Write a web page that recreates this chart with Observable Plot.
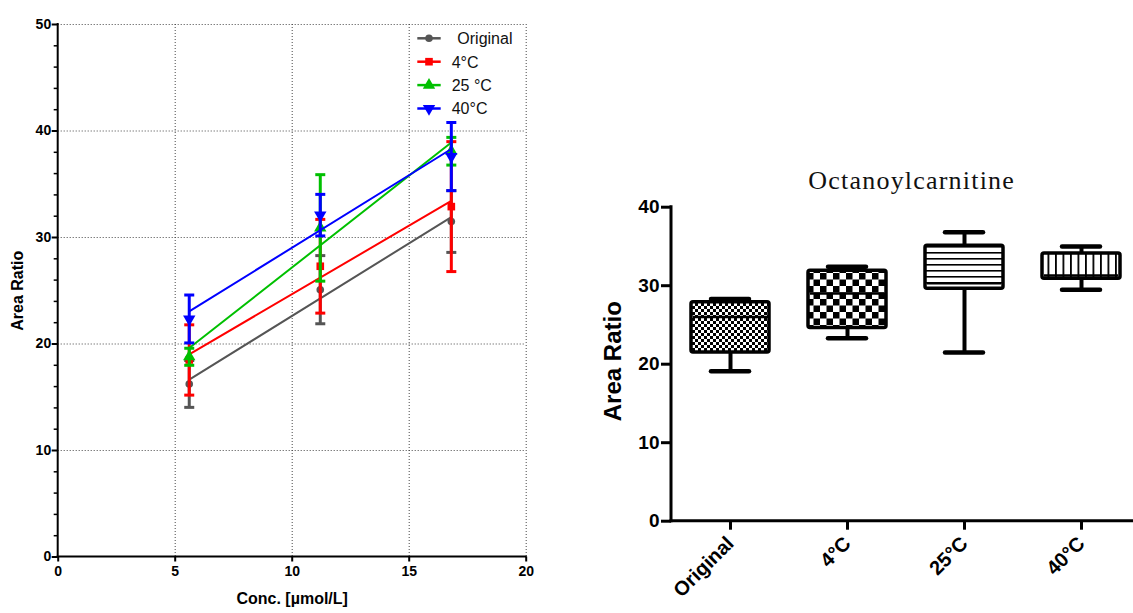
<!DOCTYPE html>
<html><head><meta charset="utf-8">
<script src="https://cdn.jsdelivr.net/npm/d3@7"></script>
<script src="https://cdn.jsdelivr.net/npm/@observablehq/plot@0.6"></script>
<style>
html,body{margin:0;padding:0;background:#fff;overflow:hidden;width:1133px;height:613px;}
#left{position:absolute;left:0;top:0;width:560px;}
#right{position:absolute;left:560px;top:0;width:581px;}
#left svg,#right svg{max-width:none;}
#legend{position:absolute;left:400px;top:20px;}
#title{position:absolute;left:711.7px;top:168px;width:400px;text-align:center;font-family:"Liberation Serif","Times New Roman",serif;font-size:26px;line-height:26px;letter-spacing:1.2px;color:#111;}
</style></head><body>
<div id="left"></div><div id="right"></div><div id="legend"></div>
<div id="title">Octanoylcarnitine</div>
<script>
// ---------- Left panel data ----------
const series = ["Original", "4°C", "25 °C", "40°C"];
const seriesColors = ["#555555", "#ff0000", "#00c000", "#0000ff"];
const conc = [5.6, 11.2, 16.8];
const meanOriginal = [16.25, 25.1, 31.5];
const sdOriginal = [2.2, 3.2, 2.9];
const mean4C = [18.5, 27.3, 32.9];
const sd4C = [3.3, 4.4, 6.1];
const mean25C = [18.8, 30.9, 38.1];
const sd25C = [0.8, 5.0, 1.3];
const mean40C = [22.35, 32.1, 37.6];
const sd40C = [2.25, 1.95, 3.2];
const xTicks = [0, 5, 10, 15, 20];
const yTicks = [0, 10, 20, 30, 40, 50];
const yMinorTicks = [2, 4, 6, 8, 12, 14, 16, 18, 22, 24, 26, 28, 32, 34, 36, 38, 42, 44, 46, 48];

// ---------- Right panel data ----------
const boxCats = ["Original", "4°C", "25°C", "40°C"];
const whiskerLow = [19.1, 23.3, 21.5, 29.5];
const q1 = [21.5, 24.6, 29.6, 30.9];
const median = [26.0, 29.0, 30.3, 31.3];
const q3 = [27.9, 31.9, 35.1, 34.1];
const whiskerHigh = [28.3, 32.4, 36.8, 35.0];
const boxTicks = [0, 10, 20, 30, 40];

const means = [meanOriginal, mean4C, mean25C, mean40C];
const sds = [sdOriginal, sd4C, sd25C, sd40C];
const rows = [];
series.forEach((s, i) => conc.forEach((c, j) => rows.push({series: s, conc: c, mean: means[i][j], sd: sds[i][j]})));

const sqrt3 = Math.sqrt(3);
const triangleDown = {draw(ctx, size) {
  const y = -Math.sqrt(size / (sqrt3 * 3));
  ctx.moveTo(0, -y * 2); ctx.lineTo(-sqrt3 * y, y); ctx.lineTo(sqrt3 * y, y); ctx.closePath();
}};
const capSym = {draw(ctx) { ctx.moveTo(-5, 0); ctx.lineTo(5, 0); }};
const symbols = ["circle", "square", "triangle", triangleDown];
const symbolR = [3.8, 4.3, 4.6, 4.6];

// axis lines drawn along the plot frame (uses the plot's own dimensions)
function axisLines(sw) {
  return (index, scales, values, dims) => {
    const {width, height, marginLeft, marginRight, marginTop, marginBottom} = dims;
    const g = d3.create("svg:g").attr("stroke", "black").attr("stroke-width", sw).attr("stroke-linecap", "square");
    g.append("line").attr("x1", marginLeft).attr("x2", marginLeft).attr("y1", marginTop).attr("y2", height - marginBottom);
    g.append("line").attr("x1", marginLeft).attr("x2", width - marginRight).attr("y1", height - marginBottom).attr("y2", height - marginBottom);
    return g.node();
  };
}

const seriesMarks = series.flatMap((s, i) => {
  const d = rows.filter(r => r.series === s);
  return [
    Plot.linearRegressionY(d, {x: "conc", y: "mean", stroke: "series", ci: 0, strokeWidth: 2}),
    Plot.ruleX(d, {x: "conc", y1: r => r.mean - r.sd, y2: r => r.mean + r.sd, stroke: "series", strokeWidth: 3}),
    Plot.dot(d, {x: "conc", y: r => r.mean - r.sd, symbol: capSym, stroke: "series", strokeWidth: 3, fill: "none"}),
    Plot.dot(d, {x: "conc", y: r => r.mean + r.sd, symbol: capSym, stroke: "series", strokeWidth: 3, fill: "none"}),
    Plot.dot(d, {x: "conc", y: "mean", symbol: symbols[i], r: symbolR[i], fill: "series", stroke: null})
  ];
});

const left = Plot.plot({
  width: 560, height: 613,
  marginLeft: 57.7, marginRight: 34.3, marginTop: 24, marginBottom: 56.5,
  x: {domain: [0, 20]},
  y: {domain: [0, 50]},
  color: {domain: series, range: seriesColors},
  style: {fontFamily: "'Liberation Sans', Arial, sans-serif", fontSize: "14px", fontWeight: "bold", color: "black", background: "white"},
  marks: [
    Plot.gridY(yTicks.filter(v => v > 0), {stroke: "#333", strokeOpacity: 0.9, strokeDasharray: "1,2"}),
    Plot.gridX(xTicks.filter(v => v > 0), {stroke: "#333", strokeOpacity: 0.9, strokeDasharray: "1,2"}),
    Plot.axisY({ticks: yMinorTicks, tickSize: 4, tickFormat: () => "", strokeWidth: 1.5, label: null}),
    Plot.axisY({ticks: yTicks, tickSize: 6, tickPadding: 1, strokeWidth: 2, label: null}),
    Plot.axisX({ticks: xTicks, tickSize: 5, tickPadding: 4, strokeWidth: 2, label: null}),
    axisLines(2),
    Plot.text(["Area Ratio"], {frameAnchor: "left", rotate: -90, dx: -40, textAnchor: "middle", lineAnchor: "middle", fontSize: 16, fontWeight: "bold", fill: "black"}),
    Plot.text(["Conc. [µmol/L]"], {frameAnchor: "bottom", dy: 41.5, textAnchor: "middle", lineAnchor: "middle", fontSize: 16, fontWeight: "bold", fill: "black"}),
    ...seriesMarks
  ]
});
document.getElementById("left").appendChild(left);

// legend
const lg = d3.select("#legend").append("svg").attr("width", 140).attr("height", 100)
  .style("font-family", "'Liberation Sans', Arial, sans-serif").style("font-size", "16px");
series.forEach((s, i) => {
  const y = 18.3 + i * 23.4;
  const g = lg.append("g");
  g.append("line").attr("x1", 17.3).attr("x2", 40.7).attr("y1", y).attr("y2", y).attr("stroke", seriesColors[i]).attr("stroke-width", 2.5);
  const sym = typeof symbols[i] === "string" ? {circle: d3.symbolCircle, square: d3.symbolSquare, triangle: d3.symbolTriangle}[symbols[i]] : symbols[i];
  g.append("path").attr("d", d3.symbol(sym, Math.PI * symbolR[i] * symbolR[i])()).attr("transform", `translate(29,${y})`).attr("fill", seriesColors[i]);
  g.append("text").attr("x", i === 0 ? 57.3 : 51.7).attr("y", y + 5.8).attr("fill", "#111").text(s);
});

// ---------- Right panel ----------
const boxRows = boxCats.map((c, i) => ({cat: c, lo: whiskerLow[i], q1: q1[i], med: median[i], q3: q3[i], hi: whiskerHigh[i]}));
const right = Plot.plot({
  width: 581, height: 613,
  marginLeft: 111, marginRight: 0, marginTop: 206.7, marginBottom: 92.3,
  x: {domain: boxCats, paddingInner: 0.33, paddingOuter: 0.165},
  y: {domain: [0, 40]},
  style: {fontFamily: "'Liberation Sans', Arial, sans-serif", fontSize: "19px", fontWeight: "bold", color: "black", background: "transparent", overflow: "visible"},
  marks: [
    Plot.axisY({ticks: boxTicks, tickSize: 10, tickPadding: 2, strokeWidth: 3, label: null}),
    Plot.axisX({tickSize: 9, tickPadding: 10, tickRotate: -45, strokeWidth: 3, label: null, fontSize: 20}),
    axisLines(3),
    Plot.text(["Area Ratio"], {frameAnchor: "left", rotate: -90, dx: -58, dy: -3, textAnchor: "middle", lineAnchor: "middle", fontSize: 24, fontWeight: "bold", fill: "black"}),
    Plot.ruleX(boxRows, {x: "cat", y1: "lo", y2: "q1", strokeWidth: 4}),
    Plot.ruleX(boxRows, {x: "cat", y1: "q3", y2: "hi", strokeWidth: 4}),
    Plot.tickY(boxRows, {x: "cat", y: "lo", insetLeft: 20, insetRight: 20, strokeWidth: 4.5, strokeLinecap: "round"}),
    Plot.tickY(boxRows, {x: "cat", y: "hi", insetLeft: 20, insetRight: 20, strokeWidth: 4.5, strokeLinecap: "round"}),
    ...boxCats.map((c, i) => Plot.barY(boxRows.filter(d => d.cat === c), {x: "cat", y1: "q1", y2: "q3", fill: `url(#pat${i})`, stroke: "black", strokeWidth: 3.5, strokeLinejoin: "round", rx: 2})),
    Plot.tickY(boxRows, {x: "cat", y: "med", strokeWidth: 2.5, insetLeft: 2, insetRight: 2})
  ]
});
document.getElementById("right").appendChild(right);

// patterns
const defs = d3.select(right).insert("defs", ":first-child");
function checker(id, s) {
  const p = defs.append("pattern").attr("id", id).attr("patternUnits", "userSpaceOnUse").attr("width", 2 * s).attr("height", 2 * s);
  p.append("rect").attr("width", 2 * s).attr("height", 2 * s).attr("fill", "white");
  p.append("rect").attr("width", s).attr("height", s).attr("fill", "black");
  p.append("rect").attr("x", s).attr("y", s).attr("width", s).attr("height", s).attr("fill", "black");
}
checker("pat0", 3);
checker("pat1", 6.5);
let p2 = defs.append("pattern").attr("id", "pat2").attr("patternUnits", "userSpaceOnUse").attr("width", 10).attr("height", 6);
p2.append("rect").attr("width", 10).attr("height", 6).attr("fill", "white");
p2.append("rect").attr("width", 10).attr("height", 1.6).attr("fill", "black");
let p3 = defs.append("pattern").attr("id", "pat3").attr("patternUnits", "userSpaceOnUse").attr("width", 7.5).attr("height", 10);
p3.append("rect").attr("width", 7.5).attr("height", 10).attr("fill", "white");
p3.append("rect").attr("width", 1.8).attr("height", 10).attr("fill", "black");
</script>
</body></html>
